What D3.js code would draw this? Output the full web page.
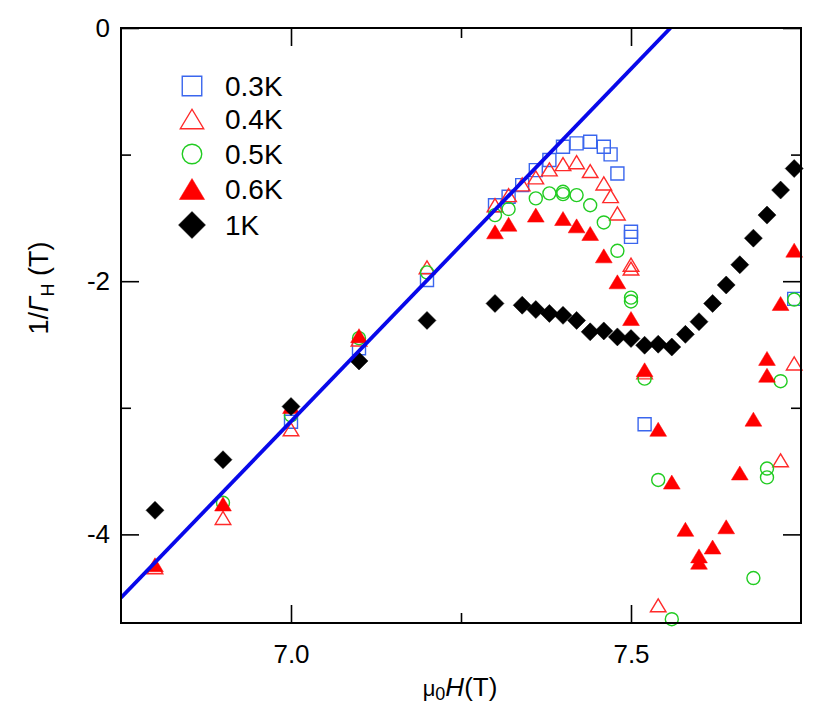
<!DOCTYPE html>
<html><head><meta charset="utf-8">
<script src="https://cdn.jsdelivr.net/npm/d3@7/dist/d3.min.js"></script>
<style>body{margin:0;background:#fff}svg{display:block;font-family:"Liberation Sans",Arial,sans-serif}</style>
</head><body><svg id="c" width="831" height="707"></svg>
<script>
// ---- data ----
const xTicksMajor = [7.0, 7.5];
const xTickLabels = ["7.0", "7.5"];
const xTicksMinor = [7.25];
const yTicksMajor = [0, -2, -4];
const yTickLabels = ["0", "-2", "-4"];
const yTicksMinor = [-1, -3];

const seriesLabels = ["0.3K", "0.4K", "0.5K", "0.6K", "1K"];

const x03 = [7.0, 7.1, 7.2, 7.30, 7.32, 7.34, 7.36, 7.38, 7.40, 7.42, 7.44, 7.46, 7.47, 7.48, 7.50, 7.50, 7.52, 7.74];
const y03 = [-3.11, -2.53, -1.99, -1.40, -1.333, -1.241, -1.123, -1.043, -0.938, -0.911, -0.899, -0.938, -0.998, -1.149, -1.61, -1.65, -3.13, -2.14];

const x04 = [6.8, 6.9, 7.0, 7.1, 7.2, 7.30, 7.32, 7.34, 7.36, 7.38, 7.40, 7.42, 7.44, 7.46, 7.47, 7.48, 7.50, 7.50, 7.52, 7.54, 7.72, 7.74];
const y04 = [-4.26, -3.87, -3.17, -2.46, -1.89, -1.40, -1.32, -1.235, -1.18, -1.117, -1.075, -1.06, -1.13, -1.228, -1.328, -1.465, -1.87, -1.90, -2.72, -4.56, -3.415, -2.65];

const x05 = [6.9, 7.0, 7.1, 7.2, 7.30, 7.32, 7.36, 7.38, 7.40, 7.40, 7.42, 7.44, 7.46, 7.48, 7.50, 7.50, 7.52, 7.54, 7.56, 7.68, 7.70, 7.70, 7.72, 7.74];
const y05 = [-3.75, -3.06, -2.45, -1.93, -1.478, -1.43, -1.346, -1.306, -1.294, -1.312, -1.32, -1.40, -1.536, -1.76, -2.13, -2.16, -2.77, -3.57, -4.67, -4.345, -3.48, -3.55, -2.79, -2.145];

const x06 = [6.8, 6.9, 7.0, 7.1, 7.30, 7.32, 7.36, 7.40, 7.42, 7.44, 7.46, 7.48, 7.50, 7.52, 7.54, 7.56, 7.58, 7.60, 7.60, 7.62, 7.64, 7.66, 7.68, 7.70, 7.70, 7.72, 7.74];
const y06 = [-4.24, -3.76, -2.99, -2.43, -1.61, -1.55, -1.478, -1.505, -1.563, -1.623, -1.80, -2.005, -2.295, -2.70, -3.17, -3.587, -3.96, -4.17, -4.22, -4.10, -3.94, -3.515, -3.09, -2.61, -2.743, -2.176, -1.755];

const x1 = [6.8, 6.9, 7.0, 7.1, 7.2, 7.30, 7.34, 7.36, 7.38, 7.40, 7.42, 7.44, 7.46, 7.48, 7.50, 7.52, 7.54, 7.56, 7.58, 7.60, 7.62, 7.64, 7.66, 7.68, 7.70, 7.72, 7.74];
const y1 = [-3.81, -3.41, -2.99, -2.63, -2.31, -2.176, -2.19, -2.224, -2.255, -2.27, -2.31, -2.40, -2.393, -2.44, -2.453, -2.506, -2.498, -2.52, -2.42, -2.32, -2.176, -2.03, -1.87, -1.66, -1.478, -1.28, -1.11];

const fitX = [6.75, 7.558];
const fitY = [-4.50, 0];

// ---- layout ----
const L = 121, R = 801, T = 28, B = 623;
const x = d3.scaleLinear().domain([6.75, 7.75]).range([L, R]);
const y = d3.scaleLinear().domain([-4.70, 0]).range([B, T]);
const svg = d3.select("#c");

function shapePath(kind, s) {
  const p = d3.path();
  if (kind === "square") { p.rect(-s/2, -s/2, s, s); }
  else if (kind === "tri" || kind === "ftri") {
    const w = s * 1.2, h = s;
    p.moveTo(0, -h/2); p.lineTo(w/2, h/2); p.lineTo(-w/2, h/2); p.closePath();
  }
  else if (kind === "circle") { p.arc(0, 0, s/2, 0, 2*Math.PI); }
  else if (kind === "diamond") {
    p.moveTo(0, -s/2); p.lineTo(s/2, 0); p.lineTo(0, s/2); p.lineTo(-s/2, 0); p.closePath();
  }
  return p.toString();
}
const series = [
  {xs: x03, ys: y03, kind: "square", size: 13, fill: "none", stroke: "#3a66ee"},
  {xs: x04, ys: y04, kind: "tri", size: 13, fill: "none", stroke: "#ff2a2a"},
  {xs: x05, ys: y05, kind: "circle", size: 13, fill: "none", stroke: "#22cc22"},
  {xs: x06, ys: y06, kind: "ftri", size: 14, fill: "#ff0000", stroke: "#ff0000"},
  {xs: x1, ys: y1, kind: "diamond", size: 18, fill: "#000", stroke: "#000"}
];

svg.append("clipPath").attr("id", "clip").append("rect")
  .attr("x", L).attr("y", T).attr("width", R - L).attr("height", B - T);

series.forEach(s => {
  const pts = s.xs.map((v, i) => [v, s.ys[i]]);
  svg.append("g").selectAll("path").data(pts).join("path")
    .attr("d", shapePath(s.kind, s.size))
    .attr("transform", d => `translate(${x(d[0])},${y(d[1])})`)
    .attr("fill", s.fill).attr("stroke", s.stroke)
    .attr("stroke-width", s.kind === "diamond" || s.kind === "ftri" ? 0.5 : 1.4);
});

svg.append("path").attr("clip-path", "url(#clip)")
  .datum(fitX.map((v, i) => [v, fitY[i]]))
  .attr("d", d3.line().x(d => x(d[0])).y(d => y(d[1])))
  .attr("stroke", "#0808ea").attr("stroke-width", 3.8).attr("fill", "none");

const axStroke = "#000";
function tickStyle(g) {
  g.select(".domain").remove();
  g.selectAll("line").attr("stroke", axStroke).attr("stroke-width", 1.6);
}
svg.append("g").attr("transform", `translate(0,${B})`)
  .call(d3.axisBottom(x).tickValues(xTicksMajor).tickSize(-18).tickFormat((d, i) => xTickLabels[i]).tickPadding(22))
  .call(tickStyle)
  .call(g => g.selectAll("text").attr("font-size", 26).attr("fill", "#000").attr("font-family", "Liberation Sans, Arial, sans-serif"));
svg.append("g").attr("transform", `translate(0,${B})`)
  .call(d3.axisBottom(x).tickValues(xTicksMinor).tickSize(-10).tickFormat(""))
  .call(tickStyle);
svg.append("g").attr("transform", `translate(0,${T})`)
  .call(d3.axisTop(x).tickValues(xTicksMajor).tickSize(-18).tickFormat(""))
  .call(tickStyle);
svg.append("g").attr("transform", `translate(0,${T})`)
  .call(d3.axisTop(x).tickValues(xTicksMinor).tickSize(-10).tickFormat(""))
  .call(tickStyle);
svg.append("g").attr("transform", `translate(${L},0)`)
  .call(d3.axisLeft(y).tickValues(yTicksMajor).tickSize(-18).tickFormat((d, i) => yTickLabels[i]).tickPadding(11))
  .call(tickStyle)
  .call(g => g.selectAll("text").attr("font-size", 26).attr("fill", "#000").attr("font-family", "Liberation Sans, Arial, sans-serif"));
svg.append("g").attr("transform", `translate(${L},0)`)
  .call(d3.axisLeft(y).tickValues(yTicksMinor).tickSize(-10).tickFormat(""))
  .call(tickStyle);
svg.append("g").attr("transform", `translate(${R},0)`)
  .call(d3.axisRight(y).tickValues(yTicksMajor).tickSize(-18).tickFormat(""))
  .call(tickStyle);
svg.append("g").attr("transform", `translate(${R},0)`)
  .call(d3.axisRight(y).tickValues(yTicksMinor).tickSize(-10).tickFormat(""))
  .call(tickStyle);
svg.append("rect").attr("x", L).attr("y", T).attr("width", R - L).attr("height", B - T)
  .attr("fill", "none").attr("stroke", "#000").attr("stroke-width", 2);

const xt = svg.append("text").attr("x", 460).attr("y", 696).attr("text-anchor", "middle")
  .attr("font-size", 26).attr("fill", "#000");
xt.append("tspan").text("\u03bc").attr("font-size", 22);
xt.append("tspan").text("0").attr("font-size", 18).attr("dy", 4);
xt.append("tspan").text("H").attr("font-style", "italic").attr("dy", -4);
xt.append("tspan").text("(T)");

const yt = svg.append("text").attr("transform", "translate(48,288) rotate(-90)")
  .attr("text-anchor", "middle").attr("font-size", 27).attr("fill", "#000");
yt.append("tspan").text("1/");
yt.append("tspan").text("\u0393").attr("font-style", "italic");
yt.append("tspan").text("H").attr("font-size", 18).attr("dy", 6);
yt.append("tspan").text(" (T)").attr("dy", -6);

const legY = [86, 119, 154, 189, 225];
const lg = svg.append("g");
series.forEach((s, i) => {
  lg.append("path").attr("d", shapePath(s.kind, s.size * 1.5))
    .attr("transform", `translate(192,${legY[i]})`)
    .attr("fill", s.fill).attr("stroke", s.stroke).attr("stroke-width", s.kind === "diamond" || s.kind === "ftri" ? 0.5 : 1.4);
  lg.append("text").attr("x", 225).attr("y", legY[i]).attr("dy", "0.36em")
    .attr("font-size", 28).attr("fill", "#000").text(seriesLabels[i]);
});
</script></body></html>
